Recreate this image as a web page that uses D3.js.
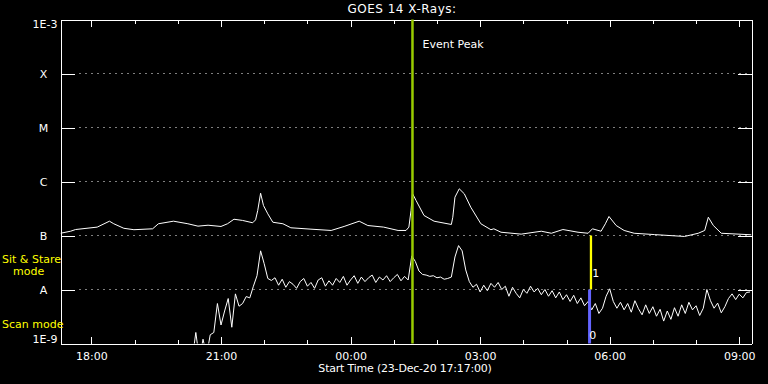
<!DOCTYPE html>
<html>
<head>
<meta charset="utf-8">
<script src="https://cdn.jsdelivr.net/npm/d3@7"></script>
<style>
  body { margin: 0; background: #000; }
  svg text { font-family: "DejaVu Sans", sans-serif; font-size: 11px; fill: #fff; }
</style>
</head>
<body>
<div id="chart"></div>
<script>
// GOES 14 X-ray flux, values in nW/m^2 (1e-9 W/m^2)
const title = "GOES 14 X-Rays:";
const xLabel = "Start Time (23-Dec-20 17:17:00)";
const startTime = "17:17";
const endTime = "09:17";

const levelValues = [1e-9, 1e-8, 1e-7, 1e-6, 1e-5, 1e-4, 1e-3];
const levelLabels = ["1E-9", "A", "B", "C", "M", "X", "1E-3"];

// long channel (1-8 A)
const longTimes = ["17:17", "17:31", "17:38", "18:08", "18:25", "18:31", "18:45", "18:59", "19:25", "19:33",
  "19:54", "20:14", "20:28", "20:42", "21:00", "21:09", "21:18", "21:30", "21:44", "21:48",
  "21:51", "21:55", "21:59", "22:05", "22:12", "22:26", "22:37", "23:05", "23:33", "23:51",
  "00:12", "00:24", "00:46", "01:06", "01:17", "01:21", "01:24", "01:26", "01:31", "01:42",
  "01:56", "02:20", "02:22", "02:25", "02:31", "02:38", "02:47", "03:01", "03:15", "03:19",
  "03:29", "03:57", "04:25", "04:39", "04:55", "05:16", "05:30", "05:36", "05:48", "05:54",
  "05:59", "06:09", "06:20", "06:34", "07:02", "07:44", "08:03", "08:12", "08:17", "08:24",
  "08:35", "09:17"];
const longFlux = [110, 120, 129, 143, 184, 165, 136, 128, 133, 165,
  184, 165, 149, 155, 147, 165, 200, 190, 172, 195,
  290, 607, 359, 252, 176, 165, 139, 131, 124, 147,
  184, 153, 143, 124, 124, 143, 290, 600, 445, 235,
  184, 160, 218, 512, 733, 592, 334, 165, 128, 133,
  115, 106, 120, 110, 129, 115, 110, 133, 120, 165,
  225, 153, 124, 110, 104, 96, 110, 124, 218, 153,
  110, 103];

// short channel (0.5-4 A), one value every 5 minutes from shortStart
const shortStart = "20:20";
const shortStepMin = 5;
const shortFlux = [0.5, 1.6, 0.5, 1.2, 0.6, 1.45, 1.6, 5.5, 2.2, 4.0,
  6.8, 2.0, 8.3, 4.9, 5.5, 7.4, 7.0, 11.5, 18, 52,
  30, 16, 14.7, 16.5, 12, 15.5, 11, 14, 12.5, 10.5,
  14, 16, 11.5, 13.5, 10.5, 15, 16.5, 11.5, 14.5, 12,
  16, 13.5, 17.5, 12, 15, 18, 13, 17, 14, 16.5,
  18.5, 13.5, 17, 15, 18, 14, 16.5, 19, 14.5, 17.5,
  15, 42, 33, 22, 19, 18.5, 17.5, 18, 16.5, 17,
  15.5, 16, 17, 40, 65, 52, 23, 14, 11, 12.5,
  9, 12, 9.5, 13, 11, 13.5, 10, 11.5, 7.5, 11,
  8.5, 7, 10, 8.5, 11.5, 9, 10.5, 8, 10, 7.5,
  9.5, 7, 9, 6.5, 8, 6, 7.8, 5.5, 7, 5,
  6, 4.2, 5.5, 3.6, 4.5, 7.5, 10.3, 6, 4.5, 5.8,
  4.2, 5.5, 3.8, 6.2, 4.4, 3.4, 5.2, 3.6, 4.8, 3.2,
  4.3, 2.6, 4.0, 2.8, 4.6, 3.2, 5.2, 3.6, 5.8, 4.2,
  5.0, 3.3, 4.5, 10, 6.2, 4.5, 5.6, 3.7, 4.8, 6.8,
  8.3, 6.5, 8.2, 7, 8.8, 9];

const eventPeak = "01:26";
const modeSwitch = "05:33";

// "HH:MM" -> Date, hours before 17 belong to the next day
function toDate(hm) {
  const [h, m] = hm.split(":").map(Number);
  return new Date(2020, 11, h >= 17 ? 23 : 24, h, m);
}

const W = 768, H = 384;
const margin = { top: 19, right: 17, bottom: 41, left: 60 };
const width = W - margin.left - margin.right;
const height = H - margin.top - margin.bottom;

const svg = d3.select("#chart").append("svg")
  .attr("width", W)
  .attr("height", H)
  .style("background", "#000");

const g = svg.append("g")
  .attr("transform", `translate(${margin.left + 0.5},${margin.top + 0.5})`);

const x = d3.scaleTime()
  .domain([toDate(startTime), toDate(endTime)])
  .range([0, width]);

const y = d3.scaleLog()
  .domain([1e-9, 1e-3])
  .range([height, 0]);

g.append("clipPath").attr("id", "plot-clip")
  .append("rect").attr("width", width).attr("height", height);

// dotted level lines
g.append("g")
  .selectAll("line")
  .data(levelValues.slice(1, -1))
  .join("line")
  .attr("x1", 19)
  .attr("x2", width)
  .attr("y1", d => y(d))
  .attr("y2", d => y(d))
  .attr("stroke", "#fff")
  .attr("stroke-dasharray", "1,5");

// axes
const axisStyle = sel => {
  sel.selectAll("path, line").attr("stroke", "#fff").attr("shape-rendering", "crispEdges");
  sel.selectAll("text").attr("fill", "#fff").attr("font-size", 11)
    .attr("font-family", "Liberation Sans, sans-serif");
};

g.append("g")
  .attr("transform", `translate(0,${height})`)
  .call(d3.axisBottom(x).ticks(d3.timeHour.every(1)).tickSizeInner(-4).tickSizeOuter(0).tickFormat(""))
  .call(axisStyle);
g.append("g")
  .attr("transform", `translate(0,${height})`)
  .call(d3.axisBottom(x).ticks(d3.timeHour.every(3)).tickSizeInner(-7).tickSizeOuter(0)
    .tickPadding(9).tickFormat(d3.timeFormat("%H:%M")))
  .call(axisStyle);
g.append("g")
  .call(d3.axisTop(x).ticks(d3.timeHour.every(1)).tickSizeInner(-4).tickSizeOuter(0).tickFormat(""))
  .call(axisStyle);
g.append("g")
  .call(d3.axisTop(x).ticks(d3.timeHour.every(3)).tickSizeInner(-7).tickSizeOuter(0).tickFormat(""))
  .call(axisStyle);
g.append("g")
  .call(d3.axisLeft(y).tickValues(levelValues).tickSizeInner(-14).tickSizeOuter(0).tickFormat(""))
  .call(axisStyle);
g.append("g")
  .attr("transform", `translate(${width},0)`)
  .call(d3.axisRight(y).tickValues(levelValues).tickSizeInner(-14).tickSizeOuter(0).tickFormat(""))
  .call(axisStyle);

// level labels
g.append("g")
  .selectAll("text")
  .data(levelValues)
  .join("text")
  .attr("x", (d, i) => levelLabels[i].length > 1 ? -3 : -17)
  .attr("y", d => y(d))
  .attr("dy", (d, i) => i === 0 ? "-0.05em" : i === levelValues.length - 1 ? "0.75em" : "0.38em")
  .attr("text-anchor", (d, i) => levelLabels[i].length > 1 ? "end" : "middle")
  .text((d, i) => levelLabels[i]);

// data lines
const longData = longTimes.map((t, i) => ({ t: toDate(t), v: longFlux[i] * 1e-9 }));
const shortData = shortFlux.map((v, i) => ({
  t: d3.timeMinute.offset(toDate(shortStart), i * shortStepMin), v: v * 1e-9
}));

const line = d3.line().x(d => x(d.t)).y(d => y(d.v));

const plot = g.append("g").attr("clip-path", "url(#plot-clip)");
plot.append("path").datum(longData)
  .attr("d", line).attr("fill", "none").attr("stroke", "#fff").attr("stroke-width", 1);
plot.append("path").datum(shortData)
  .attr("d", line).attr("fill", "none").attr("stroke", "#fff").attr("stroke-width", 1);

// event peak marker
const xp = x(toDate(eventPeak));
g.append("line")
  .attr("x1", xp).attr("x2", xp).attr("y1", 0).attr("y2", height)
  .attr("stroke", "#99cc00").attr("stroke-width", 2.5);
g.append("text").attr("x", xp + 10).attr("y", 28).text("Event Peak");

// mode switch markers
const xm = x(toDate(modeSwitch));
g.append("line")
  .attr("x1", xm + 0.7).attr("x2", xm + 0.7).attr("y1", y(1e-7)).attr("y2", y(1e-8))
  .attr("stroke", "#ffff00").attr("stroke-width", 2.3);
g.append("line")
  .attr("x1", xm - 0.7).attr("x2", xm - 0.7).attr("y1", y(1e-8)).attr("y2", height)
  .attr("stroke", "#6464ff").attr("stroke-width", 3);
g.append("text").attr("x", xm + 2).attr("y", y(1e-7) + 41).text("1");
g.append("text").attr("x", xm - 1).attr("y", y(1e-9) - 5).text("0");

// title and x label
svg.append("text").attr("x", 402).attr("y", 13).attr("text-anchor", "middle")
  .style("font-size", "12px").style("letter-spacing", "0.5px").text(title);
svg.append("text").attr("x", 405).attr("y", 372).attr("text-anchor", "middle")
  .style("letter-spacing", "-0.2px").text(xLabel);

// mode labels
svg.append("g")
  .selectAll("text")
  .data([["Sit & Stare", 2, 263], ["mode", 13, 275], ["Scan mode", 2, 328]])
  .join("text")
  .attr("x", d => d[1]).attr("y", d => d[2])
  .style("fill", "#ffff00")
  .text(d => d[0]);
</script>
</body>
</html>
